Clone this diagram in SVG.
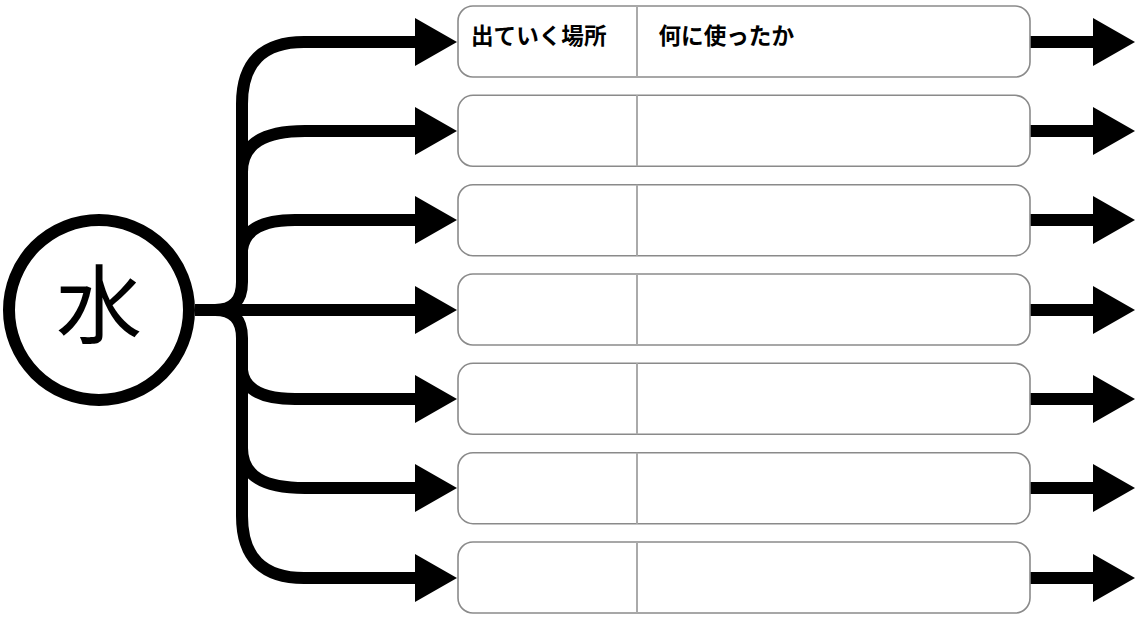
<svg xmlns="http://www.w3.org/2000/svg" width="1136" height="617" viewBox="0 0 1136 617">
<defs>
<style>
.box{fill:#fff;stroke:#8a8a8a;stroke-width:1.6}
.div{stroke:#aaaaaa;stroke-width:2}
.ln{fill:none;stroke:#000;stroke-width:12}
.hd{fill:#000}
.lbl{font-family:"Noto Sans CJK JP","Noto Sans CJK SC",sans-serif;font-size:22.6px;font-weight:bold;fill:#000}
</style>
<g id="arrowL"><polygon class="hd" points="-42,-24 0,0 -42,24"/></g>
</defs>
<rect width="1136" height="617" fill="#fff"/>
<g id="connectors">
<path class="ln" d="M195 310 H430"/>
<path class="ln" d="M215 310 Q242 310 242 282 V104 Q242 42 304 42 H420"/>
<path class="ln" d="M215 310 Q242 310 242 338 V516 Q242 578 304 578 H420"/>
<path class="ln" d="M242 172 C242 143 265 131 305 131 H420"/>
<path class="ln" d="M242 250 C244 230 262 220 295 220 H420"/>
<path class="ln" d="M242 370 C244 390 262 399 295 399 H420"/>
<path class="ln" d="M242 448 C242 477 265 488 305 488 H420"/>
<use href="#arrowL" x="457" y="42"/>
<use href="#arrowL" x="457" y="131"/>
<use href="#arrowL" x="457" y="220"/>
<use href="#arrowL" x="457" y="310"/>
<use href="#arrowL" x="457" y="399"/>
<use href="#arrowL" x="457" y="488"/>
<use href="#arrowL" x="457" y="578"/>
<path class="ln" d="M1030 42 H1096 M1030 131 H1096 M1030 220 H1096 M1030 310 H1096 M1030 399 H1096 M1030 488 H1096 M1030 578 H1096"/>
<use href="#arrowL" x="1135" y="42"/>
<use href="#arrowL" x="1135" y="131"/>
<use href="#arrowL" x="1135" y="220"/>
<use href="#arrowL" x="1135" y="310"/>
<use href="#arrowL" x="1135" y="399"/>
<use href="#arrowL" x="1135" y="488"/>
<use href="#arrowL" x="1135" y="578"/>
</g>
<g id="water">
<circle cx="99" cy="310" r="90" fill="#fff" stroke="#000" stroke-width="12"/>
<text x="99" y="337" text-anchor="middle" font-family="'Noto Sans CJK JP','Noto Sans CJK SC',sans-serif" font-size="86">水</text>
</g>
<g id="row1"><rect class="box" x="458" y="6" width="572" height="71" rx="15"/><line class="div" x1="637" y1="6" x2="637" y2="77"/>
<text class="lbl" x="471" y="43.5">出ていく場所</text><text class="lbl" x="658.5" y="43.5">何に使ったか</text></g>
<g id="row2"><rect class="box" x="458" y="95.3" width="572" height="71" rx="15"/><line class="div" x1="637" y1="95.3" x2="637" y2="166.3"/></g>
<g id="row3"><rect class="box" x="458" y="184.7" width="572" height="71" rx="15"/><line class="div" x1="637" y1="184.7" x2="637" y2="255.7"/></g>
<g id="row4"><rect class="box" x="458" y="274" width="572" height="71" rx="15"/><line class="div" x1="637" y1="274" x2="637" y2="345"/></g>
<g id="row5"><rect class="box" x="458" y="363.3" width="572" height="71" rx="15"/><line class="div" x1="637" y1="363.3" x2="637" y2="434.3"/></g>
<g id="row6"><rect class="box" x="458" y="452.7" width="572" height="71" rx="15"/><line class="div" x1="637" y1="452.7" x2="637" y2="523.7"/></g>
<g id="row7"><rect class="box" x="458" y="542" width="572" height="71" rx="15"/><line class="div" x1="637" y1="542" x2="637" y2="613"/></g>
</svg>
